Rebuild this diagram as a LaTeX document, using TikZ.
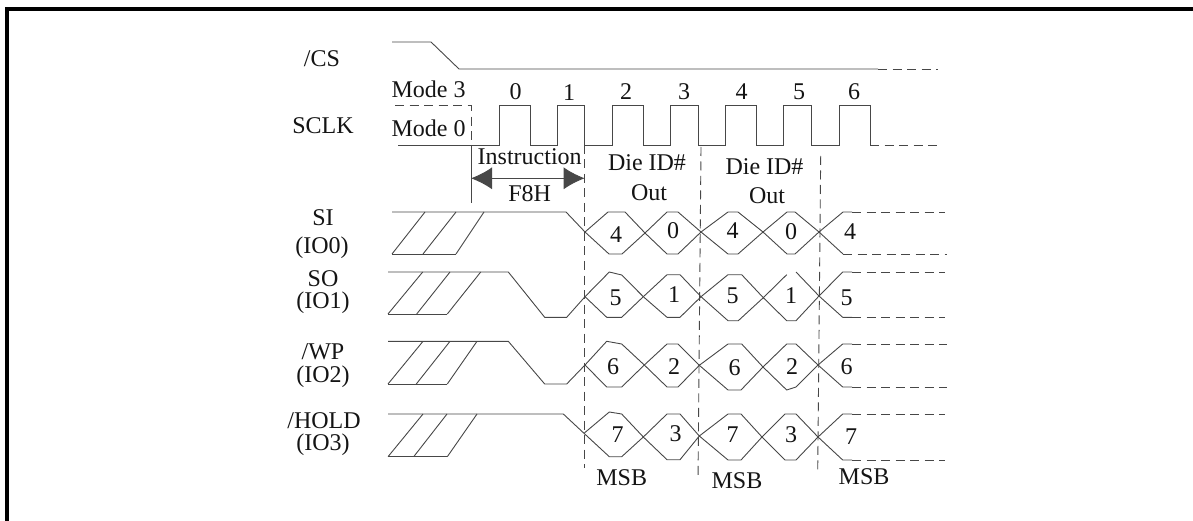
\documentclass[tikz,border=0pt]{standalone}
\usepackage{fontspec}
\setmainfont{Liberation Serif}
\usetikzlibrary{arrows.meta}

\tikzset{
  wave/.style={draw=black!72, line width=0.9pt, line join=miter},
  wavedash/.style={wave, dash pattern=on 9pt off 5.5pt},
  label/.style={inner sep=0pt, font=\fontsize{24}{26}\selectfont, text=black!92},
}

\begin{document}
\begin{tikzpicture}[x=1pt, y=-1pt]
\useasboundingbox (0,0) rectangle (1193,521);
% frame
\draw[line width=4pt, line cap=butt] (7,521) -- (7,9) -- (1193,9);
% signal names
\node[label] (cs) at (322,59) {/CS};
\node[label] (sclk) at (323,126) {SCLK};
\node[label] (si) at (323,218) {SI};
\node[label] (io0) at (322,248) {(IO0)};
\node[label] (so) at (323,279) {SO};
\node[label] (io1) at (323,303) {(IO1)};
\node[label] (wp) at (323,352) {/WP};
\node[label] (io2) at (323,377) {(IO2)};
\node[label] (hold) at (324,421) {/HOLD};
\node[label] (io3) at (323,445) {(IO3)};
% chip select
\draw[wave] (392,42) -- (431,42) -- (459,69) -- (878,69);
\draw[wavedash] (878,69) -- (938,69);
% clock
\node[label] (mode3) at (428.5,89) {Mode 3};
\node[label] (mode0) at (428.5,128) {Mode 0};
\draw[wavedash] (395,105.7) -- (471,105.7) -- (471,145);
\draw[wave] (398,145) -- (499,145) -- (499,105.7) -- (530,105.7) -- (530,145) -- (557.3,145) -- (557.3,105.7) -- (584.7,105.7) -- (584.7,145)
  -- (612,145) -- (612,105.7) -- (643,105.7) -- (643,145) -- (670.7,145) -- (670.7,105.7) -- (698,105.7) -- (698,145)
  -- (725.7,145) -- (725.7,105.7) -- (756.7,105.7) -- (756.7,145) -- (783.7,145) -- (783.7,105.7) -- (811.3,105.7) -- (811.3,145)
  -- (839,145) -- (839,105.7) -- (870,105.7) -- (870,145);
\draw[wavedash] (870,145) -- (938,145);
% clock numbers
\node[label] (clk0) at (515.7,92) {0};
\node[label] (clk1) at (569,93) {1};
\node[label] (clk2) at (626,92) {2};
\node[label] (clk3) at (684,92) {3};
\node[label] (clk4) at (741.7,92) {4};
\node[label] (clk5) at (799,92) {5};
\node[label] (clk6) at (854,92) {6};
% boundaries
\coordinate (instrL) at (471,178.3);
\coordinate (instrR) at (584.7,178.3);
\draw[wave] (471,145) -- (471,203);
\draw[wavedash] (584.7,145) -- (584.7,468);
\draw[wavedash] (701,147) -- (698,480);
\draw[wavedash] (820.7,156) -- (817.7,472);
% instruction
\draw[black!72, line width=0.9pt, {Latex[length=21pt,width=22pt]}-{Latex[length=21pt,width=22pt]}] (instrL) -- (instrR);
\node[label] (instr) at (529.7,157) {Instruction};
\node[label] (f8h) at (529.7,194) {F8H};
\node[label] (die1) at (647,163) {Die ID\#};
\node[label] (out1) at (649,193) {Out};
\node[label] (die2) at (764.5,167) {Die ID\#};
\node[label] (out2) at (767,196) {Out};
% SI
\draw[wave] (392,212) -- (566,212) -- (585,232) -- (609,254) -- (622,254) -- (645,233);
\draw[wave] (392,254) -- (456,254);
\draw[wave] (392,254) -- (425,212);
\draw[wave] (423,254) -- (456,212);
\draw[wave] (456,254) -- (484,212);
\draw[wave] (585,232) -- (608,212) -- (625,212) -- (645,233) -- (667,254) -- (678,254) -- (701,232) -- (728,254) -- (738,254) -- (763,232) -- (787,254) -- (795,254) -- (819,232) -- (843,254);
\draw[wave] (645,233) -- (667,212) -- (678,212) -- (701,232) -- (728,212) -- (738,212) -- (763,232) -- (787,212) -- (795,212) -- (819,232) -- (843,212) -- (852,212);
\draw[wavedash] (852,212) -- (945,212);
\draw[wavedash] (843,254) -- (947,254);
\node[label] (si4a) at (616,235) {4};
\node[label] (si0a) at (673,231) {0};
\node[label] (si4b) at (732.7,231) {4};
\node[label] (si0b) at (791,232) {0};
\node[label] (si4c) at (850,232) {4};
% SO
\draw[wave] (388,272) -- (508.3,272) -- (544.7,317.3) -- (566.7,317.3) -- (585,296.7) -- (609.3,272) -- (621.7,275) -- (643.3,296.7) -- (667,317.3) -- (680,317.3) -- (701,296.7) -- (728,320.7) -- (738.3,320.7) -- (763.3,297.7) -- (786.7,320.7) -- (796,320.7) -- (819,296) -- (842.7,272) -- (852,272);
\draw[wave] (388,314) -- (447.3,314);
\draw[wave] (388,314) -- (422.7,272);
\draw[wave] (416.7,314) -- (450,272);
\draw[wave] (447.3,314) -- (480.7,272);
\draw[wave] (585,296.7) -- (606.7,317.3) -- (621.7,317.3) -- (643.3,296.7) -- (667,274.7) -- (680,274.7) -- (701,296.7) -- (728,274.7) -- (741.7,274.7) -- (763.3,297.7) -- (786.7,274.7);
\draw[wave] (796,272) -- (819,296) -- (842.7,317.3) -- (852,317.3);
\draw[wavedash] (852,272) -- (945,272);
\draw[wavedash] (852,317.3) -- (945,317.3);
\node[label] (so5a) at (615.7,298) {5};
\node[label] (so1a) at (674,295) {1};
\node[label] (so5b) at (732.7,296) {5};
\node[label] (so1b) at (791,296) {1};
\node[label] (so5c) at (846.7,298) {5};
% WP
\draw[wave] (388,341.3) -- (508.3,341.3) -- (544.7,384) -- (566.7,384) -- (585,365) -- (606.7,341.3) -- (621.7,344) -- (644.3,365) -- (667,387) -- (678,387) -- (699.3,365.3) -- (728,390) -- (741,390) -- (763,367) -- (786.7,390) -- (796,387) -- (818,365) -- (842.7,344) -- (852,344);
\draw[wave] (388,384) -- (447.3,384);
\draw[wave] (388,384) -- (423,341.3);
\draw[wave] (416.3,384) -- (450,341.3);
\draw[wave] (447.3,384) -- (477,341.3);
\draw[wave] (585,365) -- (606.7,387) -- (621.7,387) -- (644.3,365) -- (667,344) -- (678,344) -- (699.3,365.3) -- (728,344) -- (741.7,344) -- (763,367) -- (786.7,344) -- (796,344) -- (818,365) -- (842.7,387) -- (852,387);
\draw[wavedash] (852,344) -- (947,344);
\draw[wavedash] (852,387) -- (947,387);
\node[label] (wp6a) at (613,367) {6};
\node[label] (wp2a) at (674,367) {2};
\node[label] (wp6b) at (734.7,368) {6};
\node[label] (wp2b) at (792,367) {2};
\node[label] (wp6c) at (846.7,367) {6};
% HOLD
\draw[wave] (388,414) -- (563.3,414) -- (584,433.3) -- (609.3,456.7) -- (621.7,456.7) -- (643.3,437) -- (667,459.7) -- (680,459.7) -- (699.3,436) -- (728,460) -- (741,460) -- (762,437) -- (785,460) -- (796,460) -- (818,437) -- (842.7,460) -- (852,460);
\draw[wave] (388,456.7) -- (447.3,456.7);
\draw[wave] (388,456.7) -- (423,414);
\draw[wave] (413.7,456.7) -- (447,414);
\draw[wave] (447.3,456.7) -- (477,414);
\draw[wave] (584,433.3) -- (609.3,412) -- (621.7,414) -- (643.3,437) -- (667,414) -- (680,414) -- (699.3,436) -- (728,414) -- (741,414) -- (762,437) -- (785,414) -- (796,414) -- (818,437) -- (842.7,414) -- (852,414);
\draw[wavedash] (852,414) -- (945,414);
\draw[wavedash] (852,460) -- (945,460);
\node[label] (hold7a) at (617.7,435) {7};
\node[label] (hold3a) at (675.7,434) {3};
\node[label] (hold7b) at (732.7,435) {7};
\node[label] (hold3b) at (791,435) {3};
\node[label] (hold7c) at (851,437) {7};
% MSB marks
\node[label] (msb1) at (621.7,478) {MSB};
\node[label] (msb2) at (737,481) {MSB};
\node[label] (msb3) at (864,477) {MSB};
\end{tikzpicture}
\end{document}
